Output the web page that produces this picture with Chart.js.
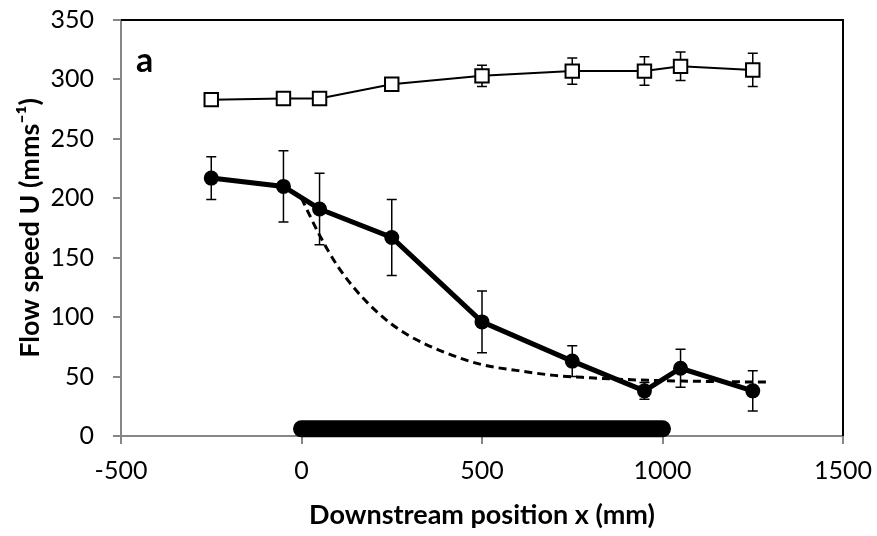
<!DOCTYPE html>
<html><head><meta charset="utf-8">
<script src="https://cdn.jsdelivr.net/npm/chart.js@4"></script>
<style>html,body{margin:0;padding:0;background:#fff;}#wrap{width:877px;height:536px;}</style>
</head><body><div id="wrap"><canvas id="c" width="877" height="536"></canvas></div>
<script>
// Downstream positions (mm)
const positions = [-250, -50, 50, 250, 500, 750, 950, 1050, 1250];
// Open squares series
const upstreamU = [283, 284, 284, 296, 303, 307, 307, 311, 308];
const upstreamErr = [2, 2, 2, 3, 9, 11, 12, 12, 14];
// Filled circles series
const canopyU = [217, 210, 191, 167, 96, 63, 38, 57, 38];
const canopyErr = [18, 30, 30, 32, 26, 13, 7, 16, 17];
// Dashed model curve
const modelX = [0, 50, 100, 150, 200, 250, 300, 400, 500, 600, 700, 800, 900, 1000, 1100, 1200, 1300];
const modelU = [200, 169, 143, 123, 107, 94, 84, 70, 60, 55, 51, 49, 47.5, 46.6, 46, 45.6, 45.4];
// Canopy extent bar
const canopyExtentX = [0, 1000];
const canopyExtentU = [6, 6];
// Axis ticks
const xTicks = [-500, 0, 500, 1000, 1500];
const yTicks = [0, 50, 100, 150, 200, 250, 300, 350];

const FONT = 'Lato';
const AXIS_GRAY = '#868686';

const errorBars = {
  id: 'errorBars',
  beforeDatasetsDraw(chart) {
    const {ctx, scales: {x, y}} = chart;
    ctx.save();
    ctx.strokeStyle = '#000';
    ctx.lineWidth = 1.5;
    [[upstreamU, upstreamErr], [canopyU, canopyErr]].forEach(([vals, errs]) => {
      vals.forEach((v, i) => {
        const px = x.getPixelForValue(positions[i]);
        const top = y.getPixelForValue(v + errs[i]);
        const bot = y.getPixelForValue(v - errs[i]);
        ctx.beginPath();
        ctx.moveTo(px, top); ctx.lineTo(px, bot);
        ctx.moveTo(px - 5, top); ctx.lineTo(px + 5, top);
        ctx.moveTo(px - 5, bot); ctx.lineTo(px + 5, bot);
        ctx.stroke();
      });
    });
    ctx.restore();
  }
};

const frameAndLabel = {
  id: 'frameAndLabel',
  afterDatasetsDraw(chart) {
    const {ctx, chartArea: a} = chart;
    ctx.save();
    ctx.strokeStyle = '#000';
    ctx.lineWidth = 2;
    ctx.beginPath();
    ctx.moveTo(a.left, a.top);
    ctx.lineTo(a.right, a.top);
    ctx.lineTo(a.right, a.bottom);
    ctx.stroke();
    ctx.fillStyle = '#000';
    ctx.font = 'bold 34px ' + FONT;
    ctx.textBaseline = 'alphabetic';
    ctx.textAlign = 'left';
    ctx.fillText('a', a.left + 15, a.top + 52);
    ctx.restore();
  }
};

new Chart(document.getElementById('c'), {
  type: 'line',
  data: {
    datasets: [
      {
        label: 'Canopy extent',
        data: canopyExtentX.map((x, i) => ({x, y: canopyExtentU[i]})),
        borderColor: '#000',
        borderWidth: 17,
        borderCapStyle: 'round',
        pointRadius: 0,
        clip: false,
        order: 1
      },
      {
        label: 'Model',
        data: modelX.map((x, i) => ({x, y: modelU[i]})),
        borderColor: '#000',
        borderWidth: 3,
        borderDash: [8, 5],
        cubicInterpolationMode: 'monotone',
        pointRadius: 0,
        order: 4
      },
      {
        label: 'Upstream',
        data: positions.map((x, i) => ({x, y: upstreamU[i]})),
        borderColor: '#000',
        borderWidth: 2,
        pointStyle: 'rect',
        pointRadius: 9.5,
        pointBorderWidth: 2,
        pointBackgroundColor: '#fff',
        pointBorderColor: '#000',
        order: 3
      },
      {
        label: 'Canopy',
        data: positions.map((x, i) => ({x, y: canopyU[i]})),
        borderColor: '#000',
        borderWidth: 5,
        pointStyle: 'circle',
        pointRadius: 7.5,
        pointBorderWidth: 0,
        pointBackgroundColor: '#000',
        order: 2
      }
    ]
  },
  options: {
    responsive: false,
    animation: false,
    events: [],
    layout: {padding: {left: 0, top: 20, right: 34, bottom: 0}},
    plugins: {legend: {display: false}, tooltip: {enabled: false}},
    scales: {
      x: {
        type: 'linear',
        min: xTicks[0], max: xTicks[xTicks.length - 1],
        afterBuildTicks(s) { s.ticks = xTicks.map(v => ({value: v})); },
        afterFit(s) { s.height = 100; s.paddingLeft = 0; s.paddingRight = 0; },
        ticks: {color: '#000', font: {family: FONT, size: 25}, padding: 12, maxRotation: 0,
                callback: v => String(v)},
        grid: {drawOnChartArea: false, drawTicks: true, tickLength: 8, color: AXIS_GRAY, lineWidth: 2},
        border: {color: AXIS_GRAY, width: 2},
        title: {display: true, text: 'Downstream position x (mm)', color: '#000',
                font: {family: FONT, size: 27, weight: 'bold'}, padding: {top: 0, bottom: 5}}
      },
      y: {
        type: 'linear',
        min: yTicks[0], max: yTicks[yTicks.length - 1],
        afterBuildTicks(s) { s.ticks = yTicks.map(v => ({value: v})); },
        afterFit(s) { s.width = 121; s.paddingTop = 0; s.paddingBottom = 0; },
        ticks: {color: '#000', font: {family: FONT, size: 25}, padding: 19,
                callback: v => String(v)},
        grid: {drawOnChartArea: false, drawTicks: true, tickLength: 8, color: AXIS_GRAY, lineWidth: 2},
        border: {color: AXIS_GRAY, width: 2},
        title: {display: true, text: 'Flow speed U (mms\u207B\u00B9)', color: '#000',
                font: {family: FONT, size: 27, weight: 'bold'}, padding: {top: 14, bottom: 0}}
      }
    }
  },
  plugins: [errorBars, frameAndLabel]
});
</script>
</body></html>
